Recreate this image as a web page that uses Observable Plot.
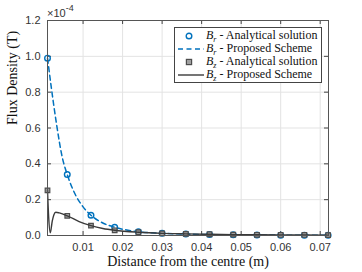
<!DOCTYPE html>
<html>
<head>
<meta charset="utf-8">
<script src="https://cdn.jsdelivr.net/npm/d3@7"></script>
<script src="https://cdn.jsdelivr.net/npm/@observablehq/plot@0.6"></script>
<style>
  body { margin: 0; background: #fff; }
  #wrap { position: relative; width: 362px; height: 272px; overflow: hidden; }
  .legend { position: absolute; left: 174px; top: 27px; width: 148px; height: 56px; box-sizing: border-box;
            border: 1px solid #444; background: #fff; font-family: "Liberation Serif", serif; font-size: 12px; color: #111; }
  .row { position: absolute; left: 1px; height: 12px; display: flex; align-items: center; white-space: nowrap; }
  .row svg { width: 28px; height: 12px; margin-right: 2px; }
  .exp { position: absolute; left: 47px; top: 4px; font-family: "Liberation Sans", Arial, sans-serif; font-size: 11px; color: #333; }
  .exp sup { font-size: 9px; position: relative; top: -1px; }
</style>
</head>
<body>
<div id="wrap"></div>
<script>
// Analytical sample positions (m) and values (×10^-4 T)
const xAnalytic = [0.001, 0.006, 0.012, 0.018, 0.024, 0.030, 0.036, 0.042, 0.048, 0.054, 0.060, 0.066, 0.072];
const brAnalytic = [0.99, 0.34, 0.113, 0.046, 0.021, 0.012, 0.008, 0.005, 0.004, 0.003, 0.002, 0.002, 0.001];
const bzAnalytic = [0.252, 0.110, 0.055, 0.029, 0.018, 0.012, 0.009, 0.007, 0.005, 0.004, 0.003, 0.003, 0.002];

// Proposed scheme curves
const brSchemeX = [0.001, 0.002, 0.0033, 0.0047, 0.006, 0.008, 0.010, 0.012, 0.015, 0.018, 0.024, 0.030, 0.036, 0.042, 0.048, 0.054, 0.060, 0.066, 0.072];
const brSchemeY = [0.99, 0.82, 0.62, 0.44, 0.34, 0.23, 0.16, 0.113, 0.070, 0.046, 0.021, 0.012, 0.008, 0.005, 0.004, 0.003, 0.002, 0.002, 0.001];
const bzSchemeX = [0.001, 0.0013, 0.0017, 0.0022, 0.0026, 0.0031, 0.004, 0.006, 0.009, 0.012, 0.015, 0.018, 0.024, 0.030, 0.036, 0.042, 0.048, 0.054, 0.060, 0.066, 0.072];
const bzSchemeY = [0.252, 0.10, 0.015, 0.08, 0.115, 0.130, 0.126, 0.110, 0.078, 0.055, 0.039, 0.029, 0.018, 0.012, 0.009, 0.007, 0.005, 0.004, 0.003, 0.003, 0.002];

const xTicks = [0.01, 0.02, 0.03, 0.04, 0.05, 0.06, 0.07];
const yTicks = [0, 0.2, 0.4, 0.6, 0.8, 1, 1.2];

const xLabel = "Distance from the centre (m)";
const yLabel = "Flux Density (T)";
const legendLabels = [
  ["r", " - Analytical solution"],
  ["r", " - Proposed Scheme"],
  ["z", " - Analytical solution"],
  ["z", " - Proposed Scheme"]
];

const blue = "#0072BD";
const W = 362, H = 272, mL = 47, mR = 34, mT = 20, mB = 37;
const fw = W - mL - mR, fh = H - mT - mB;

const brA = xAnalytic.map((x, i) => ({x, y: brAnalytic[i]}));
const bzA = xAnalytic.map((x, i) => ({x, y: bzAnalytic[i]}));
const brS = brSchemeX.map((x, i) => ({x, y: brSchemeY[i]}));
const bzS = bzSchemeX.map((x, i) => ({x, y: bzSchemeY[i]}));

const chart = Plot.plot({
  width: W, height: H,
  marginLeft: mL, marginRight: mR, marginTop: mT, marginBottom: mB,
  style: {fontFamily: "'Liberation Sans', Arial, sans-serif", background: "#fff"},
  x: {domain: [0.001, 0.0721]},
  y: {domain: [0, 1.2]},
  marks: [
    Plot.gridX(xTicks, {stroke: "#e3e3e3", strokeOpacity: 1}),
    Plot.gridY(yTicks, {stroke: "#e3e3e3", strokeOpacity: 1}),
    Plot.axisX(xTicks, {tickSize: 0, tickPadding: 8, fontSize: 11, fill: "#333", label: null}),
    Plot.axisY(yTicks, {tickSize: 0, tickPadding: 7, fontSize: 11, fill: "#333", label: null}),
    Plot.tickX(xTicks, {x: d => d, insetTop: fh - 4, stroke: "#444"}),
    Plot.tickX(xTicks, {x: d => d, insetBottom: fh - 4, stroke: "#444"}),
    Plot.tickY(yTicks, {y: d => d, insetRight: fw - 4, stroke: "#444"}),
    Plot.tickY(yTicks, {y: d => d, insetLeft: fw - 4, stroke: "#444"}),
    Plot.line(brS, {x: "x", y: "y", curve: "monotone-x", stroke: blue, strokeWidth: 1.5, strokeDasharray: "5,3.5"}),
    Plot.dot(brA, {x: "x", y: "y", symbol: "circle", r: 2.8, stroke: blue, strokeWidth: 1.4, fill: "none"}),
    Plot.dot(bzA, {x: "x", y: "y", symbol: "square", r: 2.6, stroke: "#4d4d4d", strokeWidth: 1.2, fill: "#a0a0a0"}),
    Plot.line(bzS, {x: "x", y: "y", curve: "monotone-x", stroke: "#3a3a3a", strokeWidth: 1.4}),
    Plot.frame({stroke: "#555"}),
    Plot.text([xLabel], {frameAnchor: "bottom", dy: 30, fontFamily: "'Liberation Serif', serif", fontSize: 14, letterSpacing: "0.4px", fill: "#111", text: d => d}),
    Plot.text([yLabel], {frameAnchor: "left", dx: -35, dy: -3, rotate: -90, fontFamily: "'Liberation Serif', serif", fontSize: 14, letterSpacing: "0.4px", fill: "#111", text: d => d})
  ]
});

const wrap = document.getElementById("wrap");
wrap.appendChild(chart);

const exp = document.createElement("div");
exp.className = "exp";
exp.innerHTML = "×10<sup>-4</sup>";
wrap.appendChild(exp);

const legend = document.createElement("div");
legend.className = "legend";
const rowTops = [2, 15, 28, 41];
const symbols = [
  `<circle cx="13" cy="6" r="2.8" fill="none" stroke="${blue}" stroke-width="1.4"/>`,
  `<line x1="2" y1="6" x2="28" y2="6" stroke="${blue}" stroke-width="1.5" stroke-dasharray="5,3.5"/>`,
  `<rect x="10.4" y="3.4" width="5.2" height="5.2" fill="#a0a0a0" stroke="#4d4d4d" stroke-width="1.2"/>`,
  `<line x1="2" y1="6" x2="28" y2="6" stroke="#3a3a3a" stroke-width="1.4"/>`
];
legendLabels.forEach(([sub, rest], i) => {
  const row = document.createElement("div");
  row.className = "row";
  row.style.top = rowTops[i] + "px";
  row.innerHTML = `<svg viewBox="0 0 28 12">${symbols[i]}</svg><span><i>B<sub style="font-size:8px">${sub}</sub></i>${rest}</span>`;
  legend.appendChild(row);
});
wrap.appendChild(legend);
</script>
</body>
</html>
